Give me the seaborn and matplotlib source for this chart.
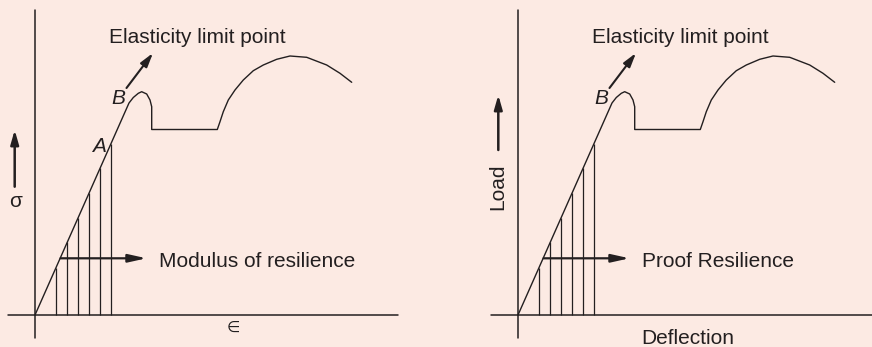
import numpy as np
import pandas as pd
import matplotlib
matplotlib.use("Agg")
import matplotlib.pyplot as plt
import seaborn as sns

# stress-strain curve (schematic units), shared by both panels
strain = [0.0, 9.4, 9.83, 10.33, 10.67, 11.17, 11.5, 11.67, 11.67,
          18.23, 18.5, 18.83, 19.33, 20.0, 20.83, 21.83, 22.83, 24.17,
          25.5, 27.17, 29.17, 30.5, 31.67]
stress = [0.0, 21.2, 21.75, 22.17, 22.33, 22.1, 21.5, 20.83, 18.55,
          18.55, 19.33, 20.33, 21.5, 22.5, 23.5, 24.43, 25.0, 25.57,
          25.9, 25.77, 25.0, 24.17, 23.27]

# positions of the vertical hatch lines under the elastic part
hatch_x = [2.1, 3.23, 4.3, 5.4, 6.53, 7.6]

titles_top = ["Elasticity limit point", "Elasticity limit point"]
area_labels = ["Modulus of resilience", "Proof Resilience"]
y_labels = ["σ", "Load"]
x_labels = ["∈", "Deflection"]

BG = "#FCEAE3"
INK = "#231F20"

sns.set_theme(style="white")
plt.rcParams["font.family"] = ["Liberation Sans", "DejaVu Sans"]

df = pd.DataFrame({"strain": strain, "stress": stress})

fig = plt.figure(figsize=(8.72, 3.47), dpi=100, facecolor=BG)
ax_left = fig.add_axes([0, 0, 0.5, 1])
ax_right = fig.add_axes([0.5, 0, 0.5, 1])

panels = [
    (ax_left, (-3.5, 40.1), (-2.7, 36.3), 0),
    (ax_right, (-8.2, 35.4), (-2.7, 35.4), 1),
]

for ax, xlim, xaxis_span, i in panels:
    ax.set_facecolor(BG)
    # axes lines
    ax.plot(list(xaxis_span), [0, 0], color=INK, lw=1.1)
    ax.plot([0, 0], [-2.3, 30.5], color=INK, lw=1.1)

    sns.lineplot(data=df, x="strain", y="stress", sort=False, estimator=None,
                 color=INK, lw=1.0, ax=ax)

    tops = np.interp(hatch_x, strain[:2], stress[:2])
    ax.vlines(hatch_x, 0, tops, color=INK, lw=0.9)

    # resilience arrow + label
    ax.annotate("", xy=(11.15, 5.67), xytext=(2.55, 5.67),
                arrowprops=dict(arrowstyle="-|>,head_length=0.9,head_width=0.2",
                                color=INK, lw=1.6, shrinkA=0, shrinkB=0))
    ax.text(12.4, 4.83, area_labels[i], fontsize=15, color=INK, va="baseline")

    # elastic limit arrow + label
    ax.annotate("", xy=(11.8, 26.2), xytext=(9.15, 22.7),
                arrowprops=dict(arrowstyle="-|>,head_length=0.7,head_width=0.2",
                                color=INK, lw=1.5, shrinkA=0, shrinkB=0))
    ax.text(7.4, 27.23, titles_top[i], fontsize=15, color=INK, va="baseline")
    ax.text(7.6, 21.05, "B", fontsize=15, style="italic", color=INK, va="baseline")

    ax.set_xlim(*xlim)
    ax.set_ylim(-3.2, 31.5)
    ax.set_axis_off()

# left panel labels
ax_left.text(5.67, 16.33, "A", fontsize=15, style="italic", color=INK, va="baseline")
ax_left.annotate("", xy=(-2.03, 18.5), xytext=(-2.03, 12.83),
                 arrowprops=dict(arrowstyle="-|>,head_length=0.7,head_width=0.2",
                                 color=INK, lw=1.8, shrinkA=0, shrinkB=0))
ax_left.text(-1.97, 11.37, y_labels[0], fontsize=15, color=INK, ha="center", va="center")
ax_left.text(19.85, -1.3, x_labels[0], fontsize=11, color=INK, ha="center", va="center")

# right panel labels
ax_right.annotate("", xy=(-1.97, 22.0), xytext=(-1.97, 16.5),
                  arrowprops=dict(arrowstyle="-|>,head_length=0.7,head_width=0.2",
                                  color=INK, lw=1.8, shrinkA=0, shrinkB=0))
ax_right.text(-2.0, 12.83, y_labels[1], fontsize=15, color=INK, rotation=90,
              ha="center", va="center")
ax_right.text(16.93, -2.95, x_labels[1], fontsize=15, color=INK, ha="center", va="baseline")

fig.savefig("out.png", dpi=100, facecolor=BG)
